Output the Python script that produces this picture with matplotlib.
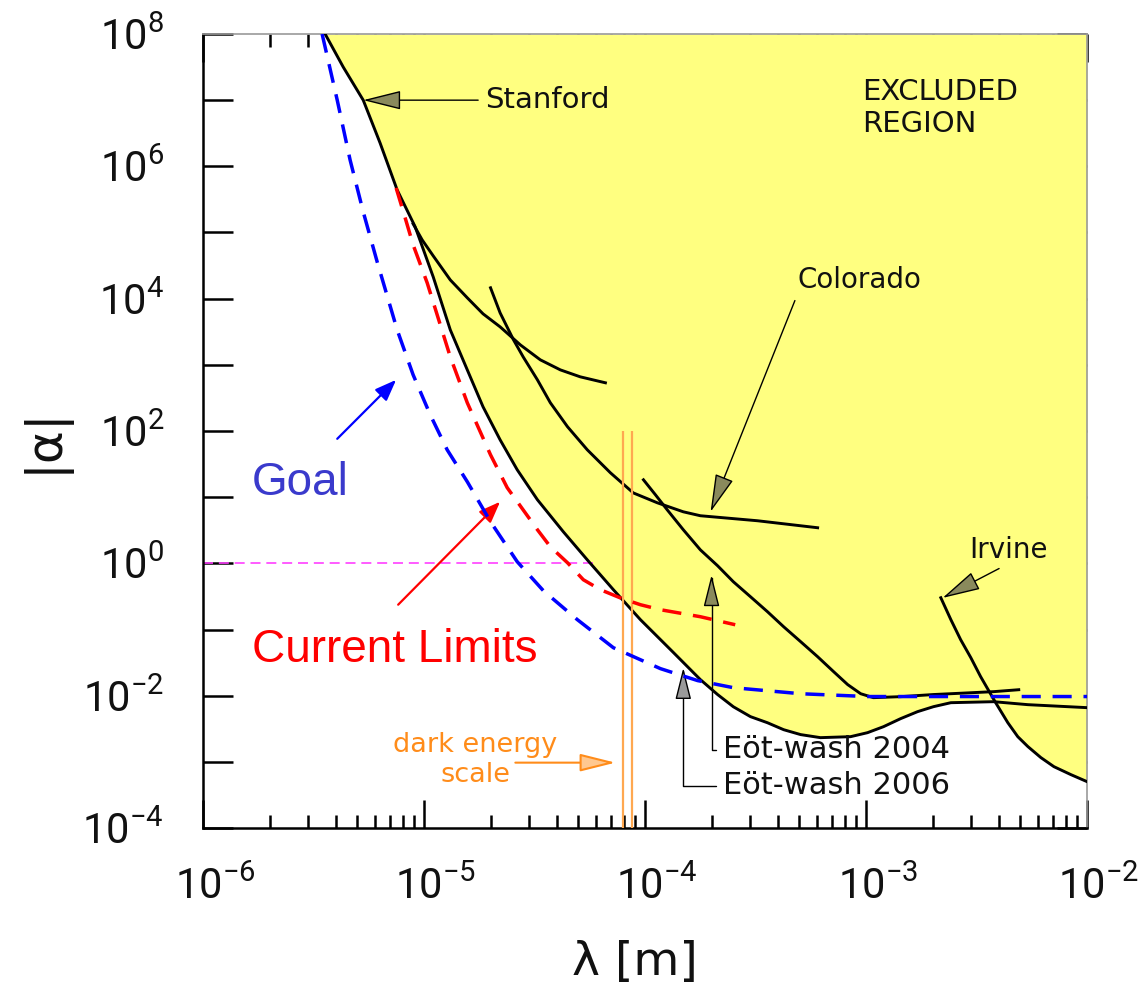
import numpy as np
import matplotlib.pyplot as plt
import matplotlib.transforms as mtransforms
from matplotlib import font_manager
from matplotlib.ticker import LogLocator, NullFormatter, NullLocator

# values: lambda [m] and |alpha|
excl_lam = [3.57e-6, 4.31e-6, 5.31e-6, 6.33e-6, 7.56e-6, 9.12e-6, 1.101e-5, 1.315e-5,
            1.57e-5, 1.85e-5, 2.21e-5, 2.64e-5, 3.26e-5, 4.27e-5, 5.48e-5, 7.19e-5,
            9.53e-5, 1.346e-4, 1.78e-4, 2.13e-4, 2.51e-4, 3.0e-4, 3.58e-4, 4.24e-4,
            5.06e-4, 6.22e-4, 8.51e-4, 1.016e-3, 1.20e-3, 1.435e-3, 1.71e-3, 2.02e-3,
            2.42e-3, 3.78e-3, 5.40e-3, 1.0e-2]
excl_alpha = [1e8, 3.17e7, 1.0e7, 2.25e6, 4.4e5, 1.22e5, 2.13e4, 3.38e3,
              839, 232, 73.6, 26, 9.14, 3.0, 1.13, 0.40,
              0.141, 0.0447, 0.0175, 0.0104, 6.8e-3, 4.82e-3, 3.9e-3, 3.06e-3,
              2.58e-3, 2.32e-3, 2.40e-3, 2.76e-3, 3.40e-3, 4.50e-3, 5.73e-3, 6.82e-3,
              7.83e-3, 8.11e-3, 7.31e-3, 6.59e-3]

goal_lam = [3.46e-6, 4.05e-6, 4.63e-6, 5.31e-6, 6.14e-6, 7.56e-6, 8.93e-6, 1.067e-5,
            1.273e-5, 1.57e-5, 2.0e-5, 2.64e-5, 3.47e-5, 4.94e-5, 7.19e-5, 1.175e-4,
            1.73e-4, 2.51e-4, 5.06e-4, 1.016e-3, 4.07e-3, 1.0e-2]
goal_alpha = [1e8, 1.0e7, 1.25e6, 2.05e5, 3.6e4, 3.38e3, 706, 176,
              52, 17.1, 4.25, 1.06, 0.385, 0.141, 0.0531, 0.0256,
              0.0169, 0.0132, 0.0107, 0.0097, 0.0097, 0.0097]

limit_lam = [7.48e-6, 8.22e-6, 8.93e-6, 1.034e-5, 1.315e-5, 1.57e-5, 2.0e-5, 2.38e-5,
             3.26e-5, 3.73e-5, 4.46e-5, 5.26e-5, 6.28e-5, 7.74e-5, 9.53e-5, 1.175e-4,
             1.78e-4, 2.56e-4]
limit_alpha = [4.72e5, 1.66e5, 6.5e4, 1.73e4, 1.32e3, 267, 43.6, 13.9,
               3.22, 1.78, 1.02, 0.565, 0.40, 0.30, 0.237, 0.199,
               0.156, 0.118]

stan_lam = [8.93e-6, 9.82e-6, 1.101e-5, 1.315e-5, 1.57e-5, 1.85e-5, 2.21e-5, 2.73e-5,
            3.36e-5, 4.14e-5, 5.09e-5, 6.62e-5]
stan_alpha = [1.35e5, 7.7e4, 4.43e4, 1.92e4, 1.03e4, 5.9e3, 3.75e3, 2.0e3,
              1.19e3, 839, 659, 535]

colo_lam = [2.0e-5, 2.21e-5, 2.54e-5, 2.81e-5, 3.26e-5, 3.73e-5, 4.46e-5, 5.48e-5,
            6.97e-5, 8.85e-5, 1.137e-4, 1.49e-4, 1.78e-4, 3.23e-4, 6.04e-4]
colo_alpha = [1.46e4, 6.1e3, 2.39e3, 1.32e3, 593, 267, 116, 52,
              23.4, 11.6, 8.22, 6.01, 5.24, 4.40, 3.45]

ew_lam = [9.84e-5, 1.114e-4, 1.26e-4, 1.49e-4, 1.78e-4, 2.13e-4, 2.51e-4, 3.0e-4,
          3.58e-4, 4.24e-4, 5.06e-4, 6.04e-4, 7.13e-4, 8.26e-4, 9.46e-4, 1.08e-3,
          1.435e-3, 2.02e-3, 3.78e-3, 4.91e-3]
ew_alpha = [18.3, 10.9, 6.45, 3.22, 1.60, 0.92, 0.527, 0.313,
            0.186, 0.110, 0.0655, 0.0388, 0.0231, 0.0147, 0.0107, 9.33e-3,
            9.66e-3, 0.0104, 0.0115, 0.0123]

irv_lam = [2.18e-3, 2.42e-3, 2.68e-3, 2.98e-3, 3.30e-3, 3.86e-3, 4.38e-3, 4.86e-3,
           5.40e-3, 6.18e-3, 7.08e-3, 8.45e-3, 1.0e-2]
irv_alpha = [0.302, 0.141, 0.0702, 0.0375, 0.0194, 7.83e-3, 3.91e-3, 2.40e-3,
             1.70e-3, 1.16e-3, 8.46e-4, 6.41e-4, 5.02e-4]

dark_lam = [7.91e-5, 8.77e-5]
dark_top = 100
unity_lam = [1e-6, 6.1e-5]
unity_alpha = [1, 1]

x_ticks = [1e-6, 1e-5, 1e-4, 1e-3, 1e-2]
x_labels = [r'$\mathregular{10^{-6}}$', r'$\mathregular{10^{-5}}$', r'$\mathregular{10^{-4}}$',
            r'$\mathregular{10^{-3}}$', r'$\mathregular{10^{-2}}$']
y_ticks = [10.0 ** k for k in range(-4, 9)]
y_labels = [r'$\mathregular{10^{%d}}$' % k if k % 2 == 0 else '' for k in range(-4, 9)]

names = {f.name for f in font_manager.fontManager.ttflist}
if 'Liberation Sans Narrow' in names:
    tick_font, tick_fs = 'Liberation Sans Narrow', 33
elif 'Roboto' in names:
    tick_font, tick_fs = 'Roboto', 30
else:
    tick_font, tick_fs = 'DejaVu Sans', 26

yellow = '#ffff80'
olive = '#8a8a5c'
orange = '#ff8c1a'

fig = plt.figure(figsize=(11.41, 9.94), dpi=100)
ax = fig.add_axes([0.1779, 0.1670, 0.7748, 0.7988])
ax.set_xscale('log')
ax.set_yscale('log')
ax.set_xlim(1e-6, 1e-2)
ax.set_ylim(1e-4, 1e8)

# excluded region: under the envelope, then the Irvine curve once it crosses
el = np.array(excl_lam)
ea = np.array(excl_alpha)
il = np.array(irv_lam)
ia = np.array(irv_alpha)
fill_x = np.concatenate([el[el <= 3.8e-3], il[il > 3.8e-3]])
fill_y = np.concatenate([ea[el <= 3.8e-3], ia[il > 3.8e-3]])
ax.fill_between(fill_x, fill_y, 1e8, color=yellow, lw=0, zorder=1.8)

ax.plot(unity_lam, unity_alpha, color='#ff40ff', lw=1.2, ls=(0, (6, 3.5)), zorder=2.2)

for lam, a in [(excl_lam, excl_alpha), (stan_lam, stan_alpha), (colo_lam, colo_alpha),
               (ew_lam, ew_alpha), (irv_lam, irv_alpha)]:
    ax.plot(lam, a, color='k', lw=2.1, zorder=3, solid_joinstyle='round')

ax.vlines(dark_lam, 1e-4, dark_top, color='#ffa850', lw=1.6, zorder=3.2)

ax.plot(limit_lam, limit_alpha, color='#ff0000', lw=2.5, ls=(0, (5.5, 3.4)), zorder=4)
ax.plot(goal_lam, goal_alpha, color='#0000ff', lw=2.5, ls=(0, (5.5, 3.4)), zorder=4)

# ticks and frame
ax.set_xticks(x_ticks, x_labels)
ax.xaxis.set_minor_locator(LogLocator(base=10, subs=np.arange(2, 10), numticks=20))
ax.xaxis.set_minor_formatter(NullFormatter())
ax.set_yticks(y_ticks, y_labels)
ax.yaxis.set_minor_locator(NullLocator())
ax.tick_params(which='both', direction='in', top=True, right=True, width=1.8, color='k',
               labelcolor='#111111')
ax.tick_params(axis='x', which='major', length=20, pad=28)
ax.tick_params(axis='x', which='minor', length=9.5)
ax.tick_params(axis='y', which='major', length=21.5, pad=28)
shift = mtransforms.ScaledTranslation(0.12, 0, fig.dpi_scale_trans)
for lab in ax.get_xticklabels():
    lab.set_transform(lab.get_transform() + shift)
for lab in ax.get_xticklabels() + ax.get_yticklabels():
    lab.set_fontfamily(tick_font)
    lab.set_fontsize(tick_fs)
for s in ['left', 'bottom']:
    ax.spines[s].set_linewidth(1.8)
for s in ['top', 'right']:
    ax.spines[s].set_color('#9a9a9a')
    ax.spines[s].set_linewidth(1.2)

fig.text(44 / 1141, 1 - 440 / 994, '|α|', rotation=90, fontsize=36, ha='center', va='center',
         color='#111111')
fig.text(635 / 1141, 1 - 963 / 994, 'λ [m]', fontsize=34, ha='center', va='center',
         color='#111111')

# labels with pointers
def head(hl, hw, fc, ec='k', lw=1, **kw):
    d = dict(arrowstyle='-|>,head_length=%g,head_width=%g' % (hl, hw), fc=fc, ec=ec, lw=lw,
             mutation_scale=10, shrinkA=3, shrinkB=0)
    d.update(kw)
    return d

ax.annotate('Stanford', xy=(5.31e-6, 1e7), xytext=(1.89e-5, 1e7), ha='left', va='center',
            fontsize=21, color='#111111', arrowprops=head(2.4, 0.6, olive, relpos=(0, 0.5)))
ax.text(0.7455, 0.9068, 'EXCLUDED\nREGION', transform=ax.transAxes, fontsize=21,
        ha='left', va='center', linespacing=1.2, color='#111111')
ax.annotate('Colorado', xy=(1.98e-4, 6.0), xytext=(4.9e-4, 1.92e4), ha='left', va='center',
            fontsize=20, color='#111111', arrowprops=head(2.4, 0.6, olive, relpos=(0, 0)))
ax.annotate('Irvine', xy=(2.22e-3, 0.30), xytext=(2.92e-3, 1.6), ha='left', va='center',
            fontsize=20, color='#111111', arrowprops=head(2.4, 0.6, olive, relpos=(0.5, 0)))
ax.annotate('Eöt-wash 2004', xy=(2.0e-4, 0.67), xytext=(2.25e-4, 1.53e-3), ha='left',
            va='center', fontsize=22, color='#111111',
            arrowprops=head(2.0, 0.5, olive, relpos=(0, 0.5),
                            connectionstyle='angle,angleA=0,angleB=90,rad=0'))
ax.annotate('Eöt-wash 2006', xy=(1.49e-4, 0.0265), xytext=(2.25e-4, 4.37e-4), ha='left',
            va='center', fontsize=22, color='#111111',
            arrowprops=head(2.0, 0.5, '#9a9a9a', relpos=(0, 0.5),
                            connectionstyle='angle,angleA=0,angleB=90,rad=0'))

ax.text(1.71e-5, 1.08e-3, 'dark energy\nscale', color=orange, ha='center', va='center',
        fontsize=19.5, linespacing=1.2, multialignment='center')
ax.annotate('', xy=(7.35e-5, 9.72e-4), xytext=(2.59e-5, 9.72e-4),
            arrowprops=head(2.2, 0.55, '#ffc890', ec=orange, lw=1.5, shrinkA=0))

ax.text(0.0554, 0.4345, 'Goal', transform=ax.transAxes, fontsize=33, color='#3a3acc',
        family='Liberation Sans', ha='left', va='center')
ax.annotate('', xy=(7.48e-6, 593), xytext=(4.05e-6, 76.2),
            arrowprops=dict(arrowstyle='-|>,head_length=1.3,head_width=0.5', color='#0000ff',
                            lw=1.6, mutation_scale=10, shrinkA=0, shrinkB=0))
ax.text(0.0554, 0.2242, 'Current Limits', transform=ax.transAxes, fontsize=33,
        color='#ff0000', family='Liberation Sans', ha='left', va='center')
ax.annotate('', xy=(2.21e-5, 8.53), xytext=(7.64e-6, 0.237),
            arrowprops=dict(arrowstyle='-|>,head_length=1.3,head_width=0.5', color='#ff0000',
                            lw=1.6, mutation_scale=10, shrinkA=0, shrinkB=0))

fig.savefig('out.png', dpi=100)
